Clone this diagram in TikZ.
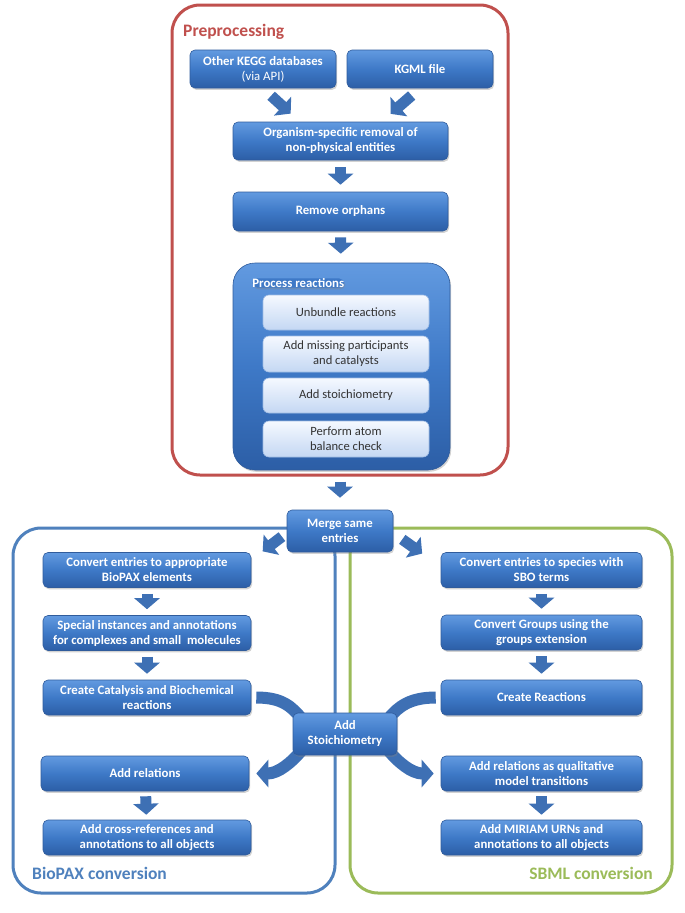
\documentclass[tikz,border=0pt]{standalone}
\usepackage{fontspec}
\setmainfont{Carlito}
\usepackage{tikz}
\usetikzlibrary{arrows.meta}
\usetikzlibrary{shadows}
\usetikzlibrary{positioning}

\definecolor{prepred}{RGB}{192,80,77}
\definecolor{biopaxblue}{RGB}{79,129,189}
\definecolor{sbmlgreen}{RGB}{155,187,89}
\definecolor{boxtop}{RGB}{98,154,224}
\definecolor{boxmid}{RGB}{62,121,199}
\definecolor{boxbot}{RGB}{44,94,166}
\definecolor{boxline}{RGB}{48,92,156}
\definecolor{arrowblue}{RGB}{62,112,180}
\definecolor{subtop}{RGB}{245,249,255}
\definecolor{subbot}{RGB}{196,215,243}
\definecolor{subline}{RGB}{160,188,228}

\pgfdeclarelayer{back}
\pgfsetlayers{back,main}

\begin{document}
\begin{tikzpicture}[
    x=1pt, y=-1pt,
    frame/.style={rectangle, rounded corners=28pt, line width=3pt},
    frametitle/.style={inner sep=0pt, font=\bfseries\fontsize{17.5}{20}\selectfont},
    stepbox/.style={rectangle, rounded corners=5pt, draw=boxline, line width=0.6pt,
      top color=boxtop, bottom color=boxbot, middle color=boxmid,
      text=white, align=center, inner sep=2pt,
      font=\bfseries\fontsize{12.8}{15}\selectfont,
      drop shadow={shadow xshift=1.2pt, shadow yshift=-1.8pt, opacity=0.35}},
    leftbox/.style={stepbox, minimum width=208pt, minimum height=35pt},
    rightbox/.style={stepbox, minimum width=201pt, minimum height=35pt},
    procbox/.style={stepbox, rounded corners=22pt},
    substep/.style={rectangle, rounded corners=6pt, draw=subline, line width=0.6pt,
      top color=subtop, bottom color=subbot, text=black!80, align=center,
      inner sep=2pt, minimum width=166pt,
      font=\fontsize{12.6}{15}\selectfont},
    flowarrow/.style={draw=arrowblue, line width=11pt, -{Triangle[length=11pt, width=25pt]}},
    bandarrow/.style={draw=arrowblue, line width=12pt},
  ]

  \begin{pgfonlayer}{back}
    \fill[white] (0,0) rectangle (685,913);
  \end{pgfonlayer}
  \useasboundingbox (0,0) rectangle (685,913);

  % Frames
  \node[frame, draw=prepred, minimum width=336pt, minimum height=470pt] (prep) at (340,240) {};
  \node[frame, draw=biopaxblue, minimum width=322pt, minimum height=365pt] (biopax) at (174,710.5) {};
  \node[frame, draw=sbmlgreen, minimum width=322pt, minimum height=365pt] (sbml) at (511,710.5) {};

  \node[frametitle, text=prepred, anchor=west] (preplabel) at (183,32) {Preprocessing};
  \node[frametitle, text=biopaxblue, anchor=west] (biolabel) at (32,873) {BioPAX conversion};
  \node[frametitle, text=sbmlgreen, anchor=east] (sbmllabel) at (653,873) {SBML conversion};

  % Preprocessing
  \node[stepbox, minimum width=146pt, minimum height=38pt] (kegg) at (263,69) {Other KEGG databases\\{\mdseries (via API)}};
  \node[stepbox, minimum width=146pt, minimum height=38pt] (kgml) at (420,69) {KGML file};
  \node[stepbox, minimum width=215pt, minimum height=38pt] (organism) at (340.5,141) {Organism-specific removal of\\non-physical entities};
  \node[stepbox, minimum width=215pt, minimum height=39pt] (orphans) at (340.5,211.5) {Remove orphans};

  \node[procbox, minimum width=217pt, minimum height=207pt] (proc) at (341.5,366.5) {};
  \node[stepbox, draw=none, top color=boxmid, bottom color=boxmid, drop shadow={opacity=0}, anchor=west, inner sep=0pt] (proclabel) at (252,283) {Process reactions};
  \node[substep, minimum height=35pt] (unbundle) at (346,312.5) {Unbundle reactions};
  \node[substep, minimum height=36pt] (missing) at (346,354) {Add missing participants\\and catalysts};
  \node[substep, minimum height=35pt] (addstoich) at (346,395.5) {Add stoichiometry};
  \node[substep, minimum height=36pt] (balance) at (346,439) {Perform atom\\balance check};

  \draw[flowarrow, shorten <=11pt, shorten >=12pt] (kegg.south) -- ([xshift=-41pt]organism.north);
  \draw[flowarrow, shorten <=11pt, shorten >=12pt] (kgml.south) -- ([xshift=41pt]organism.north);
  \draw[flowarrow, shorten <=7pt, shorten >=7pt] (organism) -- (orphans);
  \draw[flowarrow, shorten <=6pt, shorten >=9pt] (orphans) -- (proc);

  % Merge
  \node[stepbox, minimum width=106pt, minimum height=42pt] (merge) at (340,531) {Merge same\\entries};
  \draw[flowarrow, shorten <=5pt, shorten >=12pt] (prep) -- (merge);

  % BioPAX column
  \node[leftbox] (convert) at (147,570) {Convert entries to appropriate\\BioPAX elements};
  \node[leftbox] (special) at (147,633) {Special instances and annotations\\for complexes and small\ \ molecules};
  \node[leftbox] (catalysis) at (147,697.5) {Create Catalysis and Biochemical\\reactions};
  \node[leftbox] (relations) at (145,773.5) {Add relations};
  \node[leftbox] (xrefs) at (147,837.5) {Add cross-references and\\annotations to all objects};

  % SBML column
  \node[rightbox] (species) at (541.5,570) {Convert entries to species with\\SBO terms};
  \node[rightbox] (groups) at (541.5,632.5) {Convert Groups using the\\groups extension};
  \node[rightbox] (reactions) at (541.5,697.5) {Create Reactions};
  \node[rightbox] (qualitative) at (541.5,773.5) {Add relations as qualitative\\model transitions};
  \node[rightbox] (miriam) at (541.5,837.5) {Add MIRIAM URNs and\\annotations to all objects};

  \node[stepbox, minimum width=104pt, minimum height=42pt] (stoich) at (345,734) {Add\\Stoichiometry};

  \draw[flowarrow, shorten <=6pt, shorten >=8pt] ([yshift=-2pt]merge.west) -- ([xshift=5pt,yshift=-4pt]convert.north east);
  \draw[flowarrow, shorten <=11pt, shorten >=8pt] ([yshift=-2pt]merge.east) -- ([xshift=-12pt,yshift=-6pt]species.north west);

  \draw[flowarrow, shorten <=6pt, shorten >=6pt] (convert) -- (special);
  \draw[flowarrow, shorten <=6pt, shorten >=6pt] (special) -- (catalysis);
  \draw[flowarrow, shorten <=5pt, shorten >=5pt] (relations) -- (xrefs);
  \draw[flowarrow, shorten <=6pt, shorten >=6pt] (species) -- (groups);
  \draw[flowarrow, shorten <=6pt, shorten >=6pt] (groups) -- (reactions);
  \draw[flowarrow, shorten <=5pt, shorten >=5pt] (qualitative) -- (miriam);

  % Curved arrows through the stoichiometry step
  \begin{pgfonlayer}{back}
    \draw[bandarrow] ([xshift=5pt]catalysis.east) .. controls +(26,0) and +(-10,-12) .. ([xshift=9pt,yshift=-6pt]stoich.north west);
    \draw[bandarrow] ([xshift=-5pt]reactions.west) .. controls +(-26,0) and +(10,-12) .. ([xshift=-9pt,yshift=-6pt]stoich.north east);
    \draw[bandarrow, -{Triangle[length=12pt, width=27pt]}] ([xshift=9pt,yshift=5pt]stoich.south west) .. controls +(-10,12) and +(22,0) .. ([xshift=7pt]relations.east);
    \draw[bandarrow, -{Triangle[length=12pt, width=27pt]}] ([xshift=-9pt,yshift=5pt]stoich.south east) .. controls +(10,12) and +(-22,0) .. ([xshift=-7pt]qualitative.west);
  \end{pgfonlayer}

\end{tikzpicture}
\end{document}
